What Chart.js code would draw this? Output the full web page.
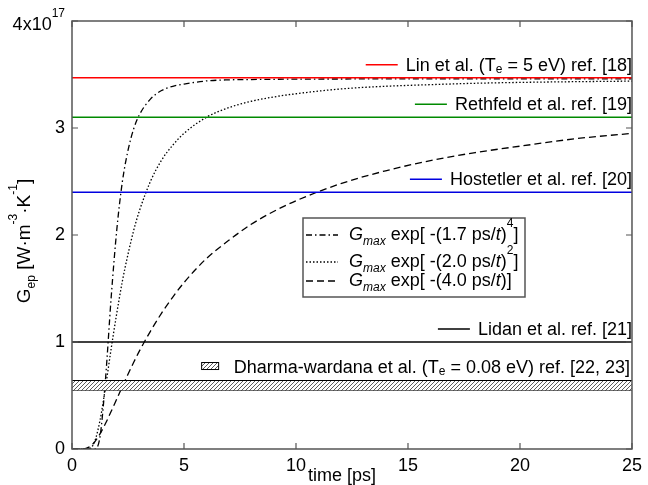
<!DOCTYPE html>
<html>
<head>
<meta charset="utf-8">
<script src="https://cdn.jsdelivr.net/npm/chart.js@4.4.0/dist/chart.umd.min.js"></script>
<style>
    html, body { margin: 0; padding: 0; background: #fff; }
</style>
</head>
<body>
<canvas id="gepChart" width="648" height="485"></canvas>
<script>
// ===== Data =====
const timePs = [0, 0.25, 0.5, 0.75, 1, 1.25, 1.5, 1.75, 2, 2.25, 2.5, 2.75, 3, 3.5, 4, 4.5, 5,
    6, 7, 8, 9, 10, 12, 14, 16, 18, 20, 22.5, 25];
// G_ep in units of 1e17 W m^-3 K^-1
const gPow4 = [0, 0, 0, 0, 0.001, 0.113, 0.665, 1.42, 2.05, 2.50, 2.79, 2.99, 3.12, 3.27, 3.35, 3.39, 3.41,
    3.44, 3.45, 3.453, 3.455, 3.457, 3.458, 3.459, 3.46, 3.46, 3.46, 3.46, 3.46];
const gPow2 = [0, 0, 0, 0.003, 0.063, 0.267, 0.585, 0.94, 1.27, 1.57, 1.82, 2.04, 2.22, 2.50, 2.70, 2.84, 2.95,
    3.10, 3.19, 3.25, 3.29, 3.32, 3.365, 3.39, 3.405, 3.418, 3.426, 3.433, 3.438];
const gPow1 = [0, 0, 0.001, 0.017, 0.063, 0.141, 0.240, 0.352, 0.468, 0.585, 0.699, 0.808, 0.912, 1.10, 1.27, 1.42, 1.555,
    1.78, 1.95, 2.10, 2.22, 2.32, 2.48, 2.60, 2.695, 2.77, 2.83, 2.90, 2.95];

// reference values (horizontal lines)
const refValues = [3.47, 3.10, 2.40, 1.00];
const refColors = ['#ff0000', '#008a00', '#0000e0', '#000000'];
const refLabels = [
    [{ t: 'Lin et al. (T' }, { t: 'e', sub: 1, dy: 2 }, { t: ' = 5 eV) ref. [18]' }],
    [{ t: 'Rethfeld et al. ref. [19]' }],
    [{ t: 'Hostetler et al. ref. [20]' }],
    [{ t: 'Lidan et al. ref. [21]' }]
];
const bandRange = [0.55, 0.64];
const bandLabel = [{ t: 'Dharma-wardana et al. (T' }, { t: 'e', sub: 1, dy: 2 }, { t: ' = 0.08 eV) ref. [22, 23]' }];

const curveLabels = [
    [{ t: 'G', i: 1 }, { t: 'max', i: 1, sub: 1 }, { t: ' exp[ -(1.7 ps/' }, { t: 't', i: 1 }, { t: ')' }, { t: '4', sup: 1 }, { t: ']' }],
    [{ t: 'G', i: 1 }, { t: 'max', i: 1, sub: 1 }, { t: ' exp[ -(2.0 ps/' }, { t: 't', i: 1 }, { t: ')' }, { t: '2', sup: 1 }, { t: ']' }],
    [{ t: 'G', i: 1 }, { t: 'max', i: 1, sub: 1 }, { t: ' exp[ -(4.0 ps/' }, { t: 't', i: 1 }, { t: ')]' }]
];
const curveDashes = [[6, 3, 1.5, 3], [1.5, 2], [7, 4]];

const xTicks = [0, 5, 10, 15, 20, 25];
const yTicks = [0, 1, 2, 3, 4];

// ===== Rich text helpers =====
const FONT = '"Liberation Sans", Arial, Helvetica, sans-serif';

function partFont(p, size) {
    const s = (p.sub || p.sup) ? Math.round(size * 0.65) : size;
    return (p.i ? 'italic ' : '') + s + 'px ' + FONT;
}

function richWidth(ctx, parts, size) {
    let w = 0;
    parts.forEach(p => { ctx.font = partFont(p, size); w += ctx.measureText(p.t).width; });
    return w;
}

function drawRich(ctx, parts, x, y, size, align) {
    let cx = align === 'right' ? x - richWidth(ctx, parts, size) : x;
    ctx.textAlign = 'left';
    ctx.textBaseline = 'alphabetic';
    parts.forEach(p => {
        ctx.font = partFont(p, size);
        let dy = 0;
        if (p.sub) dy = p.dy !== undefined ? p.dy : size * 0.25;
        if (p.sup) dy = -size * 0.7;
        ctx.fillText(p.t, cx, y + dy);
        cx += ctx.measureText(p.t).width;
    });
    return cx;
}

// ===== Hatch pattern for the band =====
function makeHatch() {
    const c = document.createElement('canvas');
    c.width = 4; c.height = 4;
    const g = c.getContext('2d');
    g.fillStyle = '#fff';
    g.fillRect(0, 0, 4, 4);
    g.strokeStyle = '#333';
    g.lineWidth = 0.8;
    g.beginPath();
    g.moveTo(0, 4); g.lineTo(4, 0);
    g.moveTo(-1, 1); g.lineTo(1, -1);
    g.moveTo(3, 5); g.lineTo(5, 3);
    g.stroke();
    return g.createPattern(c, 'repeat');
}
const hatch = makeHatch();

// ===== Datasets =====
const pts = arr => timePs.map((t, i) => ({ x: t, y: arr[i] }));
const flat = v => [{ x: xTicks[0], y: v }, { x: xTicks[xTicks.length - 1], y: v }];

const datasets = [
    { data: flat(bandRange[1]), borderColor: '#000', borderWidth: 1.2, fill: '+1', backgroundColor: hatch },
    { data: flat(bandRange[0]), borderColor: '#000', borderWidth: 1.2, fill: false }
];
refValues.forEach((v, i) => {
    datasets.push({ data: flat(v), borderColor: refColors[i], borderWidth: 1.5, fill: false });
});
[gPow4, gPow2, gPow1].forEach((arr, i) => {
    datasets.push({
        data: pts(arr), borderColor: '#000', borderWidth: 1.3, borderDash: curveDashes[i],
        fill: false, cubicInterpolationMode: 'monotone'
    });
});

// ===== Frame, ticks, titles and legends =====
const decorations = {
    id: 'decorations',
    afterDatasetsDraw(chart) {
        const ctx = chart.ctx;
        const a = chart.chartArea;
        const xs = chart.scales.x, ys = chart.scales.y;
        ctx.save();
        ctx.fillStyle = '#000';

        // right side reference labels
        refLabels.forEach((parts, i) => {
            const yl = ys.getPixelForValue(refValues[i]) - 7;
            const w = richWidth(ctx, parts, 18);
            const x0 = 632 - w;
            ctx.strokeStyle = refColors[i];
            ctx.lineWidth = 1.5;
            ctx.setLineDash([]);
            ctx.beginPath();
            ctx.moveTo(x0 - 40, yl - 6);
            ctx.lineTo(x0 - 8, yl - 6);
            ctx.stroke();
            drawRich(ctx, parts, 632, yl, 18, 'right');
        });

        // band label
        const yb = ys.getPixelForValue(bandRange[1]) - 8;
        const wb = richWidth(ctx, bandLabel, 18);
        const xb = 630 - wb;
        ctx.fillStyle = hatch;
        ctx.fillRect(xb - 32, yb - 10, 17, 7);
        ctx.strokeStyle = '#000';
        ctx.lineWidth = 1;
        ctx.strokeRect(xb - 32, yb - 10, 17, 7);
        ctx.fillStyle = '#000';
        drawRich(ctx, bandLabel, 630, yb, 18, 'right');

        // legend box for the curves
        ctx.fillStyle = '#fff';
        ctx.fillRect(303, 218, 222, 79);
        ctx.strokeStyle = '#555';
        ctx.lineWidth = 1.5;
        ctx.strokeRect(303, 218, 222, 79);
        const rows = [240, 267, 286];
        rows.forEach((yr, i) => {
            ctx.strokeStyle = '#000';
            ctx.lineWidth = 1.3;
            ctx.setLineDash(curveDashes[i]);
            ctx.beginPath();
            ctx.moveTo(306, yr - 5);
            ctx.lineTo(338, yr - 5);
            ctx.stroke();
            ctx.setLineDash([]);
            ctx.fillStyle = '#000';
            drawRich(ctx, curveLabels[i], 349, yr, 18, 'left');
        });

        // frame and inward ticks
        ctx.setLineDash([]);
        ctx.strokeStyle = '#555';
        ctx.lineWidth = 1.5;
        ctx.strokeRect(a.left, a.top, a.right - a.left, a.bottom - a.top);
        ctx.lineWidth = 1.2;
        ctx.beginPath();
        xTicks.forEach(v => {
            const px = xs.getPixelForValue(v);
            ctx.moveTo(px, a.bottom); ctx.lineTo(px, a.bottom - 6);
            ctx.moveTo(px, a.top); ctx.lineTo(px, a.top + 6);
        });
        yTicks.forEach(v => {
            const py = ys.getPixelForValue(v);
            ctx.moveTo(a.left, py); ctx.lineTo(a.left + 6, py);
            ctx.moveTo(a.right, py); ctx.lineTo(a.right - 6, py);
        });
        ctx.stroke();

        // top y label with exponent
        ctx.fillStyle = '#000';
        const yTop = ys.getPixelForValue(yTicks[yTicks.length - 1]);
        drawRich(ctx, [{ t: '4x10' }, { t: '17', sup: 1 }], 65, yTop + 9, 18, 'right');

        // axis titles
        drawRich(ctx, [{ t: 'time [ps]' }], 308, 481, 18, 'left');
        ctx.translate(30, 241);
        ctx.rotate(-Math.PI / 2);
        const yTitle = [{ t: 'G' }, { t: 'ep', sub: 1 }, { t: ' [W·m' }, { t: '-3', sup: 1 }, { t: '·K' }, { t: '-1', sup: 1 }, { t: ']' }];
        const wt = richWidth(ctx, yTitle, 19);
        drawRich(ctx, yTitle, -wt / 2, 0, 19, 'left');
        ctx.restore();
    }
};

// ===== Render Chart =====
const ctx = document.getElementById('gepChart').getContext('2d');
new Chart(ctx, {
    type: 'line',
    data: { datasets: datasets },
    options: {
        responsive: false,
        animation: false,
        devicePixelRatio: 1,
        layout: { padding: { top: 21, right: 12, left: 0, bottom: 0 } },
        elements: { point: { radius: 0 } },
        plugins: { legend: { display: false }, tooltip: { enabled: false } },
        scales: {
            x: {
                type: 'linear', min: 0, max: 25,
                grid: { display: false, drawTicks: false },
                border: { display: false },
                afterBuildTicks: s => { s.ticks = xTicks.map(v => ({ value: v })); },
                ticks: { color: '#000', font: { size: 18, family: FONT }, padding: 6, maxRotation: 0 },
                afterFit: s => { s.height = 36; }
            },
            y: {
                type: 'linear', min: 0, max: 4,
                grid: { display: false, drawTicks: false },
                border: { display: false },
                afterBuildTicks: s => { s.ticks = yTicks.map(v => ({ value: v })); },
                ticks: {
                    color: '#000', font: { size: 18, family: FONT }, padding: 7,
                    callback: v => (v === 4 ? '' : v)
                },
                afterFit: s => { s.width = 72; }
            }
        }
    },
    plugins: [decorations]
});
</script>
</body>
</html>
